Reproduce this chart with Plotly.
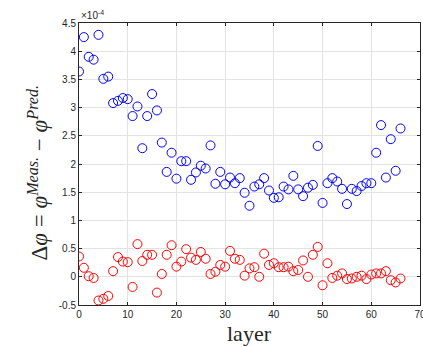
import plotly.graph_objects as go

layers = list(range(67))

# values in units of 1e-4
meas_blue = [3.64, 4.25, 3.90, 3.85, 4.29, 3.51, 3.55, 3.08, 3.12, 3.17,
             3.15, 2.85, 3.02, 2.28, 2.85, 3.24, 2.95, 2.38, 1.86, 2.20,
             1.74, 2.05, 2.05, 1.72, 1.85, 1.97, 1.92, 2.33, 1.65, 1.86,
             1.64, 1.76, 1.66, 1.75, 1.49, 1.26, 1.60, 1.64, 1.75, 1.53,
             1.40, 1.41, 1.60, 1.55, 1.79, 1.55, 1.43, 1.58, 1.63, 2.32,
             1.31, 1.66, 1.75, 1.69, 1.56, 1.29, 1.56, 1.52, 1.61, 1.66,
             1.66, 2.20, 2.69, 1.76, 2.44, 1.88, 2.63]

meas_red = [0.36, 0.16, 0.01, -0.02, -0.42, -0.39, -0.34, 0.10, 0.35, 0.27,
            0.26, -0.18, 0.58, 0.28, 0.39, 0.39, -0.28, 0.05, 0.39, 0.56,
            0.18, 0.27, 0.49, 0.34, 0.30, 0.44, 0.32, 0.05, 0.09, 0.21,
            0.18, 0.46, 0.32, 0.30, 0.02, 0.15, 0.17, 0.00, 0.41, 0.21,
            0.24, 0.17, 0.17, 0.18, 0.10, 0.12, 0.29, 0.00, 0.39, 0.53,
            -0.15, 0.24, -0.02, 0.02, 0.06, -0.04, -0.03, 0.00, 0.02, -0.04,
            0.04, 0.06, 0.06, 0.10, -0.06, -0.10, -0.03]

ytick_vals = [-0.5, 0, 0.5, 1, 1.5, 2, 2.5, 3, 3.5, 4, 4.5]
ytick_text = ["-0.5", "0", "0.5", "1", "1.5", "2", "2.5", "3", "3.5", "4", "4.5"]
xtick_vals = [0, 10, 20, 30, 40, 50, 60, 70]

fig = go.Figure()
fig.add_trace(go.Scatter(
    x=layers, y=meas_blue, mode="markers",
    marker=dict(symbol="circle-open", size=9, color="#0000ff",
                line=dict(width=1, color="#0000ff")),
    showlegend=False))
fig.add_trace(go.Scatter(
    x=layers, y=meas_red, mode="markers",
    marker=dict(symbol="circle-open", size=9, color="#ff0000",
                line=dict(width=1, color="#ff0000")),
    showlegend=False))

axis_common = dict(
    showline=True, linecolor="#262626", linewidth=1, mirror="ticks",
    ticks="inside", ticklen=3, tickcolor="#262626",
    showgrid=True, gridcolor="#e3e3e3", gridwidth=1, zeroline=False,
    ticklabeloverflow="allow",
    tickfont=dict(family="Liberation Sans, Arial, sans-serif", size=10, color="#262626"),
)

fig.update_xaxes(range=[0, 70], tickvals=xtick_vals, **axis_common)
fig.update_yaxes(range=[-0.5, 4.5], tickvals=ytick_vals, ticktext=ytick_text, **axis_common)

fig.add_annotation(
    xref="paper", yref="paper", x=0.0, y=1.0, xanchor="left", yanchor="bottom",
    text="×10<sup>-4</sup>", showarrow=False,
    font=dict(family="Liberation Sans, Arial, sans-serif", size=10, color="#262626"))

fig.add_annotation(
    xref="paper", yref="paper", x=-0.12, y=0.47, xanchor="center", yanchor="middle",
    textangle=-90, showarrow=False,
    text="Δ<i>φ</i> = <i>φ</i><sup><i>Meas.</i></sup> − <i>φ</i><sup><i>Pred.</i></sup>",
    font=dict(family="Liberation Serif, Times New Roman, serif", size=23, color="#262626"))

fig.add_annotation(
    xref="paper", yref="paper", x=0.5, y=-0.10, xanchor="center", yanchor="middle",
    text="layer", showarrow=False,
    font=dict(family="Liberation Serif, Times New Roman, serif", size=22, color="#262626"))

fig.update_layout(
    width=423, height=347,
    margin=dict(l=79, r=3, t=23, b=42, autoexpand=False),
    paper_bgcolor="white", plot_bgcolor="white",
)

fig.write_html("out.html",
               config={"displayModeBar": False},
               post_script="document.body.style.margin='0';document.body.style.padding='0';")
